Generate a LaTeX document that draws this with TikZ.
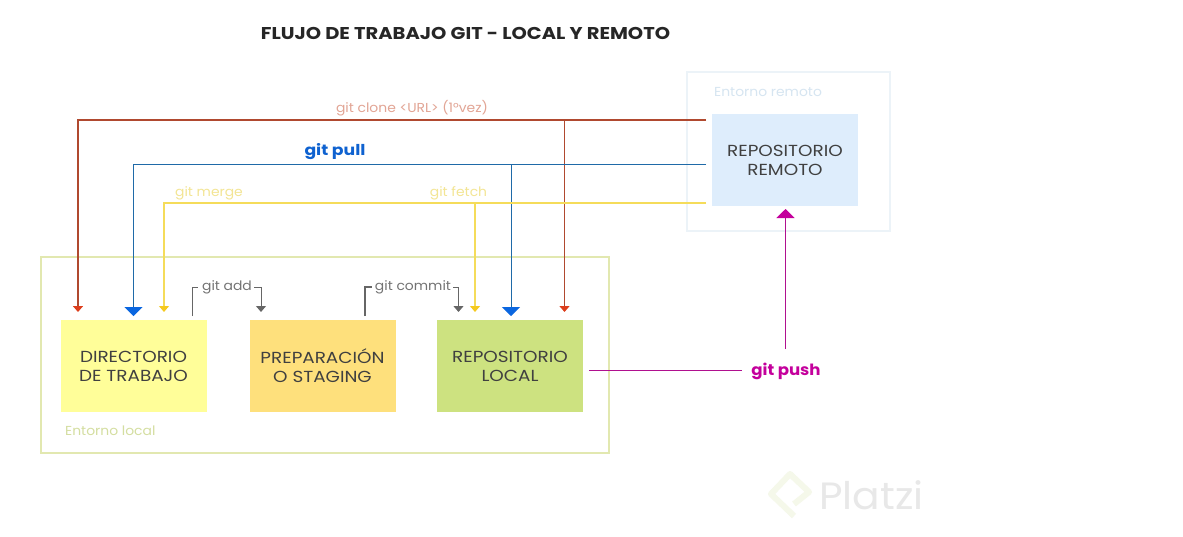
\documentclass[tikz,border=0pt]{standalone}
\usepackage{fontspec}
\setmainfont{Poppins}
\newfontfamily\wideA[FakeStretch=1.15]{Poppins}
\newfontfamily\wideB[FakeStretch=1.07]{Poppins}
\newfontfamily\wideT[FakeStretch=1.14]{Poppins}
\usetikzlibrary{arrows.meta}
\definecolor{cClone}{HTML}{B0492F}
\definecolor{cCloneTip}{HTML}{DD3E1C}
\definecolor{cCloneTxt}{HTML}{E2A595}
\definecolor{cPull}{HTML}{1F6AA8}
\definecolor{cPullTip}{HTML}{0A66E0}
\definecolor{cPullTxt}{HTML}{0F62D0}
\definecolor{cYel}{HTML}{F5DC5A}
\definecolor{cYelTip}{HTML}{F5C91E}
\definecolor{cYelTxt}{HTML}{F3E594}
\definecolor{cGrey}{HTML}{666666}
\definecolor{cPush}{HTML}{B0108F}
\definecolor{cPushTxt}{HTML}{C4009C}
\definecolor{cEnvL}{HTML}{E2E8B0}
\definecolor{cEnvR}{HTML}{ECF3F8}
\definecolor{cDir}{HTML}{FFFE99}
\definecolor{cStage}{HTML}{FEE07C}
\definecolor{cLocal}{HTML}{CDE280}
\definecolor{cRemote}{HTML}{DEEDFC}
\definecolor{cEnvLTxt}{HTML}{D4DEA0}
\definecolor{cEnvRTxt}{HTML}{D6E5F1}
\definecolor{cMark}{HTML}{F5F8EA}
\tikzset{
  x=1pt,y=-1pt,
  lab/.style={inner sep=0pt,font=\wideB\fontsize{13}{15}\selectfont},
  stagebox/.style={inner sep=0pt,minimum width=146pt,minimum height=92pt,align=center,text=black!75,font=\wideA\fontsize{16}{19}\selectfont},
  envbox/.style={inner sep=0pt,line width=1.2pt},
  smalltip/.style={-{Triangle[width=10pt,length=6pt,color=#1]}},
  bigtip/.style={-{Triangle[width=18pt,length=9pt,color=#1]}},
  cloneline/.style={cClone,line width=1.6pt,smalltip=cCloneTip},
  pullline/.style={cPull,line width=1pt,bigtip=cPullTip},
  yelline/.style={cYel,line width=1.1pt,smalltip=cYelTip},
  greyline/.style={cGrey,line width=1pt},
  pushline/.style={cPush,line width=1pt},
}
\begin{document}
\begin{tikzpicture}
\fill[white] (0,0) rectangle (1183,536);
\useasboundingbox (0,0) rectangle (1183,536);

% environments
\node[envbox,draw=cEnvL,minimum width=568pt,minimum height=196pt] (localenv) at (325,355) {};
\node[envbox,draw=cEnvR,minimum width=203pt,minimum height=159pt] (remoteenv) at (788.5,151.5) {};

% title
\node[inner sep=0pt,font=\wideT\fontsize{17.1}{18}\selectfont\bfseries,text=black!85] (title) at (465.5,33) {FLUJO DE TRABAJO GIT - LOCAL Y REMOTO};

% boxes
\node[stagebox,fill=cDir] (dir) at (133.5,366) {DIRECTORIO\\DE TRABAJO};
\node[stagebox,fill=cStage] (stage) at (322.5,366) {PREPARACIÓN\\O STAGING};
\node[stagebox,fill=cLocal] (repolocal) at (510,366) {REPOSITORIO\\LOCAL};
\node[stagebox,fill=cRemote] (remote) at (785,160) {REPOSITORIO\\REMOTO};

% labels
\node[lab,text=cCloneTxt] (lclone) at (412,108) {git clone <URL> (1°vez)};
\node[lab,text=cPullTxt,font=\wideA\fontsize{15}{15}\selectfont\bfseries] (lpull) at (335,152) {git pull};
\node[lab,text=cYelTxt] (lmerge) at (209,193) {git merge};
\node[lab,text=cYelTxt] (lfetch) at (458.5,193) {git fetch};
\node[lab,text=black!55] (ladd) at (227,287) {git add};
\node[lab,text=black!55] (lcommit) at (413,287) {git commit};
\node[lab,text=cPushTxt,font=\wideB\fontsize{15.5}{15}\selectfont\bfseries] (lpush) at (786,371) {git push};
\node[lab,text=cEnvLTxt,anchor=west] (lenvlocal) at (65,431) {Entorno local};
\node[lab,text=cEnvRTxt,anchor=west] (lenvremote) at (714,92) {Entorno remoto};

% free ends
\coordinate (cloneFrom) at (706,120);
\coordinate (cloneDir) at (78,312);
\coordinate (cloneTop) at (564.5,120);
\coordinate (cloneLocal) at (564.5,312);
\coordinate (pullFrom) at (706,164);
\coordinate (pullDir) at (133.5,316);
\coordinate (pullTop) at (511,164);
\coordinate (pullLocal) at (511,316);
\coordinate (yelFrom) at (706,203);
\coordinate (yelDir) at (164,312);
\coordinate (yelTop) at (475,203);
\coordinate (yelLocal) at (475,312);
\coordinate (addFrom) at (192.5,316);
\coordinate (addTo) at (261,312);
\coordinate (commitFrom) at (365,316);
\coordinate (commitTo) at (458.5,312);
\coordinate (pushFrom) at (589,370);
\coordinate (pushUp) at (785.5,349);
\coordinate (pushTo) at (785.5,209);
\coordinate (addLeft) at (198,287);
\coordinate (addRight) at (254,287);
\coordinate (commitLeft) at (372,287);
\coordinate (commitRight) at (453,287);
\coordinate (pushEnd) at (742,370);

% connectors
\draw[cloneline] (cloneFrom) -| (cloneDir);
\draw[cloneline,line width=1.2pt] (cloneTop) -- (cloneLocal);
\draw[pullline] (pullFrom) -| (pullDir);
\draw[pullline] (pullTop) -- (pullLocal);
\draw[yelline] (yelFrom) -| (yelDir);
\draw[yelline] (yelTop) -- (yelLocal);
\draw[greyline] (addFrom) |- (addLeft);
\draw[greyline,smalltip=cGrey] (addRight) -| (addTo);
\draw[greyline,line width=1.5pt] (commitFrom) |- (commitLeft);
\draw[greyline,smalltip=cGrey] (commitRight) -| (commitTo);
\draw[pushline] (pushFrom) -- (pushEnd);
\draw[pushline,bigtip=cPushTxt] (pushUp) -- (pushTo);

% watermark
\draw[line width=6pt,line join=round,cMark] (794,516) -- (771,494) -- (790,474) -- (809,492) -- (794,504);
\node[inner sep=0pt,text=black!9,font=\wideB\fontsize{38}{40}\selectfont] (platzi) at (871.5,495) {Platzi};
\end{tikzpicture}
\end{document}
